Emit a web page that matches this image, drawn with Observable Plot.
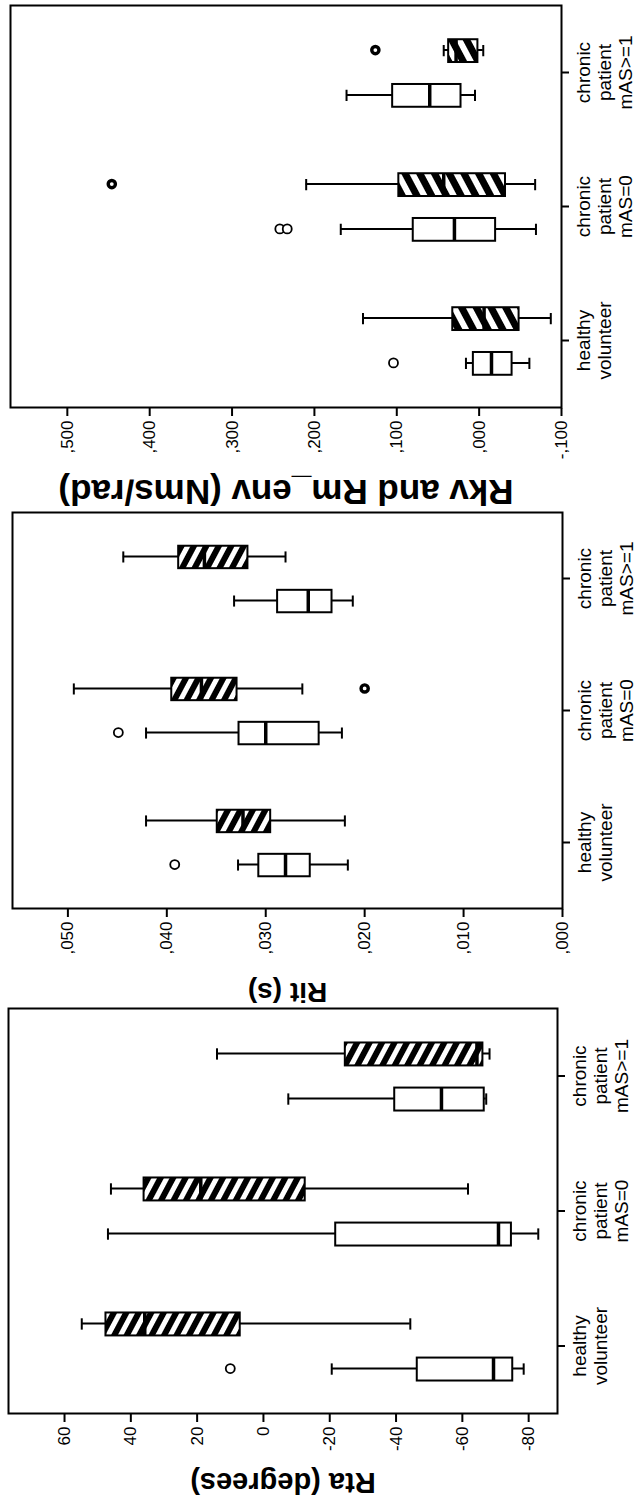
<!DOCTYPE html>
<html><head><meta charset="utf-8">
<script src="https://cdn.jsdelivr.net/npm/d3@7"></script>
<script src="https://cdn.jsdelivr.net/npm/@observablehq/plot@0.6"></script>
<style>
html,body{margin:0;padding:0;background:#fff;overflow:hidden;width:638px;height:1497px}
#wrap{position:absolute;left:0;top:0;width:1497px;height:638px;display:flex;transform-origin:0 0;transform:translateY(1497px) rotate(-90deg);}
#wrap svg{flex:none;display:block;overflow:visible}
</style></head><body>
<svg width="0" height="0" style="position:absolute">
<defs>
<pattern id="hatchBack" patternUnits="userSpaceOnUse" width="11" height="11" patternTransform="rotate(28)">
<rect width="11" height="11" fill="white"/><rect width="11" height="6" fill="black"/>
</pattern>
<pattern id="hatchFwd" patternUnits="userSpaceOnUse" width="13" height="13" patternTransform="rotate(-28)">
<rect width="13" height="13" fill="white"/><rect width="13" height="7" fill="black"/>
</pattern>
</defs></svg>
<div id="wrap"></div>
<script>
// Categories (tick labels of the category axis)
const categories = ["healthy\nvolunteer", "chronic\npatient\nmAS=0", "chronic\npatient\nmAS>=1"];

// Box statistics per category: [lower whisker, Q1, median, Q3, upper whisker]
const rtaPlain   = [[-78.5, -75.2, -69.4, -46.4, -20.6], [-82.9, -74.8, -70.9, -21.8, 46.9], [-67.2, -66.6, -53.7, -39.6, -7.5]];
const rtaHatched = [[-44.3, 7.0, 35.8, 47.5, 54.8], [-61.7, -12.6, 18.9, 36.0, 46.0], [-68.2, -66.2, -64.4, -24.7, 14.0]];
// Outliers: [category index, group (0 plain / 1 hatched), value, kind]
const rtaOutliers = [[0, 0, 10, "open"]];
const rtaTicks = [60, 40, 20, 0, -20, -40, -60, -80];

const ritPlain   = [[0.0217, 0.0255, 0.0280, 0.0307, 0.0328], [0.0223, 0.0246, 0.0300, 0.0327, 0.0421], [0.0212, 0.0233, 0.0257, 0.0288, 0.0332]];
const ritHatched = [[0.0220, 0.0295, 0.0323, 0.0349, 0.0421], [0.0263, 0.0329, 0.0365, 0.0395, 0.0494], [0.0280, 0.0318, 0.0362, 0.0388, 0.0444]];
const ritOutliers = [[0, 0, 0.0392, "open"], [1, 0, 0.0449, "open"], [1, 1, 0.0200, "filled"]];
const ritTicks = [0.05, 0.04, 0.03, 0.02, 0.01, 0];

const rkvPlain   = [[-0.061, -0.040, -0.015, 0.007, 0.016], [-0.069, -0.020, 0.030, 0.080, 0.168], [0.005, 0.022, 0.060, 0.105, 0.161]];
const rkvHatched = [[-0.087, -0.0485, -0.006, 0.032, 0.141], [-0.068, -0.032, 0.043, 0.0975, 0.210], [-0.005, 0.0015, 0.028, 0.037, 0.043]];
const rkvOutliers = [[0, 0, 0.104, "open"], [1, 0, 0.242, "open"], [1, 0, 0.233, "open"], [1, 1, 0.446, "filled"], [2, 1, 0.126, "filled"]];
const rkvTicks = [0.5, 0.4, 0.3, 0.2, 0.1, 0, -0.1];

const OFF = 0.167, HW = 0.085, CAP = 0.042;
const intFmt = d => String(d);
const commaFmt = d => d3.format(".3f")(d).replace("\u2212", "-").replace("0.", ",");

function panel(cfg) {
  const rows = [];
  [cfg.plain, cfg.hatched].forEach((arr, g) => arr.forEach((s, i) => rows.push({
    g, pos: i + (g ? OFF : -OFF), lo: s[0], q1: s[1], med: s[2], q3: s[3], hi: s[4]
  })));
  const outs = cfg.outliers.map(([i, g, v, kind]) => ({pos: i + (g ? OFF : -OFF), v, kind}));
  const plainRows = rows.filter(d => !d.g), hatchRows = rows.filter(d => d.g);
  return Plot.plot({
    width: cfg.width, height: 638,
    marginLeft: cfg.m[0], marginRight: cfg.m[1], marginTop: cfg.m[2], marginBottom: cfg.m[3],
    x: {type: "linear", domain: [-0.5, 2.5]},
    y: {domain: cfg.domain},
    style: {fontFamily: "'Liberation Sans', Arial, sans-serif", color: "black", background: "white", overflow: "visible"},
    marks: [
      Plot.ruleX(rows, {x: "pos", y1: "lo", y2: "hi", stroke: "black", strokeWidth: 2}),
      Plot.ruleY(rows, {y: "lo", x1: d => d.pos - CAP, x2: d => d.pos + CAP, stroke: "black", strokeWidth: 2}),
      Plot.ruleY(rows, {y: "hi", x1: d => d.pos - CAP, x2: d => d.pos + CAP, stroke: "black", strokeWidth: 2}),
      Plot.rect(plainRows, {x1: d => d.pos - HW, x2: d => d.pos + HW, y1: "q1", y2: "q3", fill: "white", stroke: "black", strokeWidth: 2}),
      Plot.rect(hatchRows, {x1: d => d.pos - HW, x2: d => d.pos + HW, y1: "q1", y2: "q3", fill: `url(#${cfg.pattern})`, stroke: "black", strokeWidth: 2}),
      Plot.ruleY(rows, {y: "med", x1: d => d.pos - HW, x2: d => d.pos + HW, stroke: "black", strokeWidth: 3.5}),
      Plot.dot(outs.filter(d => d.kind === "open"), {x: "pos", y: "v", r: 4.5, fill: "white", stroke: "black", strokeWidth: 1.8}),
      Plot.dot(outs.filter(d => d.kind === "filled"), {x: "pos", y: "v", r: 3.6, fill: "white", stroke: "black", strokeWidth: 3.4}),
      Plot.frame({stroke: "black", strokeWidth: 2}),
      Plot.axisY({ticks: cfg.ticks, tickFormat: cfg.fmt, tickSize: 8, tickPadding: 5, fontSize: 17, label: null, strokeWidth: 2}),
      Plot.axisX({ticks: [0, 1, 2], tickFormat: i => categories[i], tickSize: 8, tickPadding: 6, fontSize: 19, lineHeight: 1.1, label: null, strokeWidth: 2}),
      Plot.text([cfg.title], {frameAnchor: "left", textAnchor: "middle", lineAnchor: "middle", dx: cfg.titleDx, rotate: -90, fontSize: cfg.titleSize, fontWeight: "bold"})
    ]
  });
}

const wrap = document.getElementById("wrap");
wrap.append(panel({plain: rtaPlain, hatched: rtaHatched, outliers: rtaOutliers, ticks: rtaTicks, fmt: intFmt,
  domain: [-88.7, 76.9], width: 499, m: [83, 11, 8, 81], pattern: "hatchBack",
  title: "Rta (degrees)", titleSize: 29, titleDx: -69}));
wrap.append(panel({plain: ritPlain, hatched: ritHatched, outliers: ritOutliers, ticks: ritTicks, fmt: commaFmt,
  domain: [0, 0.0556], width: 499, m: [89, 14, 12, 76], pattern: "hatchBack",
  title: "Rit (s)", titleSize: 28, titleDx: -83}));
wrap.append(panel({plain: rkvPlain, hatched: rkvHatched, outliers: rkvOutliers, ticks: rkvTicks, fmt: commaFmt,
  domain: [-0.1, 0.569], width: 499, m: [91, 6, 10, 77], pattern: "hatchFwd",
  title: "Rkv and Rm_env (Nms/rad)", titleSize: 35, titleDx: -84}));
</script>
</body></html>
